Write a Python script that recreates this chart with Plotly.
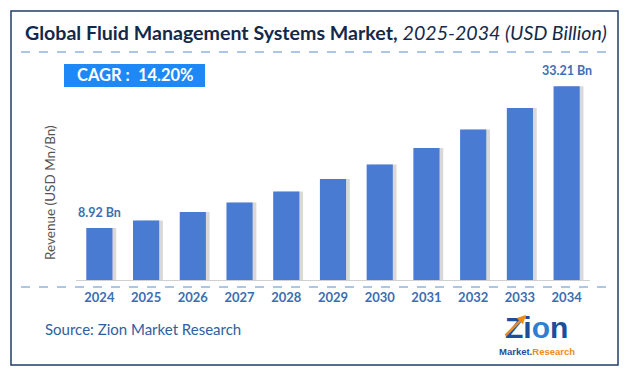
import plotly.graph_objects as go

years = ["2024", "2025", "2026", "2027", "2028", "2029", "2030", "2031", "2032", "2033", "2034"]
values = [8.92, 10.19, 11.63, 13.28, 15.17, 17.32, 19.78, 22.59, 25.80, 29.46, 33.21]
labels = ["8.92 Bn", "", "", "", "", "", "", "", "", "", "33.21 Bn"]
title_main = "Global Fluid Management Systems Market,"
title_sub = "2025-2034 (USD Billion)"
cagr_text = "CAGR :  14.20%"
y_title = "Revenue (USD Mn/Bn)"
source_text = "Source: Zion Market Research"

OFF = 8  # page body margin offset
W, H = 627, 380
L, R, T, B = 76 - OFF, 37 + OFF, 64 - OFF, 100 + OFF
PW, PH = W - L - R, H - T - B
FONT = "Lato, 'Open Sans', sans-serif"


def px(x):
    return (x - OFF - L) / PW


def py(y):
    return 1 - (y - OFF - T) / PH


fig = go.Figure()
# soft shadow behind bars
fig.add_trace(go.Bar(x=years, y=values, width=0.56, offset=-0.28 + 0.08,
                     marker=dict(color="rgba(120,120,120,0.28)", line=dict(width=0)),
                     hoverinfo="skip", showlegend=False))
fig.add_trace(go.Bar(x=years, y=values, width=0.56, offset=-0.28,
                     marker=dict(color="#4a7bd2", line=dict(width=0)),
                     showlegend=False))

annotations = []
for i, (v, t) in enumerate(zip(values, labels)):
    if t:
        annotations.append(dict(x=i, y=v, xref="x", yref="y", text="<b>" + t + "</b>",
                                showarrow=False, yanchor="bottom", yshift=6,
                                font=dict(family=FONT, size=12.5, color="#3d6fb3")))

annotations += [
    dict(x=px(23), y=py(32), xref="paper", yref="paper", xanchor="left", yanchor="middle",
         text="<b>" + title_main + "</b> <i>" + title_sub + "</i>", showarrow=False,
         font=dict(family=FONT, size=19.6, color="#13294b")),
    dict(x=px(75), y=py(75.5), xref="paper", yref="paper", xanchor="left", yanchor="middle",
         text="<b>" + cagr_text + "</b>", showarrow=False,
         font=dict(family=FONT, size=16.5, color="white")),
    dict(x=px(50), y=py(193), xref="paper", yref="paper", xanchor="center", yanchor="middle",
         text=y_title, textangle=-90, showarrow=False,
         font=dict(family=FONT, size=13.5, color="#555555")),
    dict(x=px(43), y=py(329), xref="paper", yref="paper", xanchor="left", yanchor="middle",
         text=source_text, showarrow=False,
         font=dict(family=FONT, size=15, color="#2f609f")),
    dict(x=px(536), y=py(327), xref="paper", yref="paper", xanchor="center", yanchor="middle",
         text="<b>Zi<span style='color:#2f7fd0'>o</span>n</b>", showarrow=False,
         font=dict(family="'Liberation Sans', sans-serif", size=30, color="#1b4f9c")),
    # orange arrow swoosh across the Z
    dict(x=px(526), y=py(315), xref="paper", yref="paper", ax=-22, ay=22, text="",
         showarrow=True, arrowhead=2, arrowsize=0.7, arrowwidth=2.5, arrowcolor="#f08a1c"),
    dict(x=px(537), y=py(351), xref="paper", yref="paper", xanchor="center", yanchor="middle",
         text="<b>Market.<span style='color:#f08a1c'>Research</span></b>", showarrow=False,
         font=dict(family="'Liberation Sans', sans-serif", size=9.5, color="#1b4f9c")),
]

shapes = [
    dict(type="rect", xref="paper", yref="paper", x0=px(11), x1=px(618), y0=py(11), y1=py(365),
         line=dict(color="#1f3f66", width=1.5), fillcolor="rgba(0,0,0,0)", layer="below"),
    dict(type="line", xref="paper", yref="paper", x0=px(21), x1=px(606), y0=py(52), y1=py(52),
         line=dict(color="#5b8dd0", width=1, dash="dash")),
    dict(type="line", xref="paper", yref="paper", x0=px(21), x1=px(606), y0=py(287), y1=py(287),
         line=dict(color="#5b8dd0", width=1, dash="dash")),
    dict(type="rect", xref="paper", yref="paper", x0=px(64), x1=px(205), y0=py(64), y1=py(87),
         line=dict(width=0), fillcolor="#1e88f7"),
]

fig.update_layout(
    width=W, height=H,
    margin=dict(l=L, r=R, t=T, b=B),
    paper_bgcolor="white", plot_bgcolor="white",
    barmode="overlay",
    bargap=0.44,
    xaxis=dict(type="category", showgrid=False, showline=True, linecolor="#d0d0d0", linewidth=1,
               ticks="", ticklabelstandoff=5,
               tickfont=dict(family=FONT, size=13, color="#3d6db1", weight="bold"),
               range=[-0.5, 10.5], fixedrange=True),
    yaxis=dict(range=[0, 37], visible=False, showgrid=False, fixedrange=True),
    annotations=annotations,
    shapes=shapes,
    font=dict(family=FONT),
)

fig.write_html("out.html")
